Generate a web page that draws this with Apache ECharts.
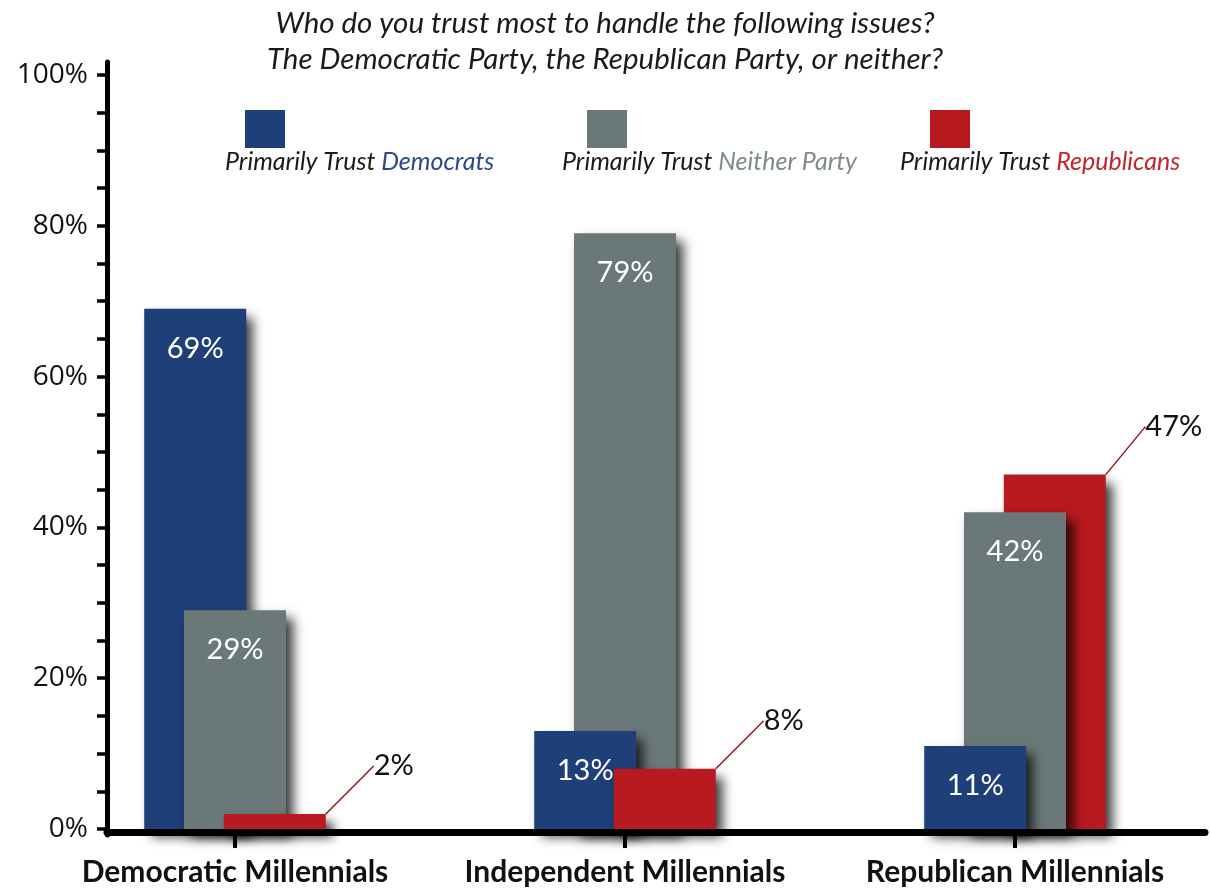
<!DOCTYPE html>
<html><head><meta charset="utf-8">
<script src="https://cdn.jsdelivr.net/npm/echarts@6/dist/echarts.min.js"></script>
<style>html,body{margin:0;padding:0;background:#fff}#c{width:1210px;height:891px}</style>
</head><body><div id="c"></div>
<script>
const categories = ['Democratic Millennials', 'Independent Millennials', 'Republican Millennials'];
const trustDemocrats = [69, 13, 11];
const trustNeither = [29, 79, 42];
const trustRepublicans = [2, 8, 47];
const seriesNames = ['Primarily Trust Democrats', 'Primarily Trust Neither Party', 'Primarily Trust Republicans'];

const FONT = 'Lato, "Open Sans", sans-serif';
const parties = {
  D: { name: seriesNames[0], values: trustDemocrats, color: '#1f3f78', inside: true },
  N: { name: seriesNames[1], values: trustNeither, color: '#6a7978', inside: true },
  R: { name: seriesNames[2], values: trustRepublicans, color: '#b81a1f', inside: false }
};
// which bar sits over which, per group (bottom -> top)
const layerOrder = [['D', 'N', 'R'], ['N', 'D', 'R'], ['R', 'N', 'D']];

const series = [];
layerOrder.forEach((order, ci) => {
  order.forEach((key, li) => {
    const p = parties[key];
    const s = {
      type: 'bar', name: p.name, stack: key, xAxisIndex: 1, yAxisIndex: 1,
      barWidth: 102, barGap: '-61%',
      z: 2 + li,
      data: p.values.map((v, i) => (i === ci ? v : '-')),
      itemStyle: { color: p.color, shadowColor: 'rgba(0,0,0,0.78)', shadowBlur: 11, shadowOffsetX: 7, shadowOffsetY: 8 },
      label: p.inside
        ? { show: true, position: 'insideTop', distance: 25, color: '#fff', fontSize: 29, fontFamily: FONT, formatter: '{c}%' }
        : { show: true, position: 'top', color: '#111', fontSize: 29, fontFamily: FONT, formatter: '{c}%', padding: [8, 6, 8, 6] }
    };
    if (!p.inside) {
      s.labelLayout = (params) => ({
        x: params.rect.x + params.rect.width + 68,
        y: params.rect.y - 48,
        align: 'center', verticalAlign: 'middle'
      });
      s.labelLine = { show: true, length2: 0, lineStyle: { color: '#8e1b1f', width: 1.5 } };
    }
    series.push(s);
  });
});

const legendBase = {
  top: 110, itemWidth: 40, itemHeight: 38, padding: 0, icon: 'rect',
  formatter: () => '', selectedMode: false,
  itemStyle: { shadowBlur: 0, shadowOffsetX: 0, shadowOffsetY: 0, shadowColor: 'rgba(0,0,0,0)' },
  textStyle: { fontSize: 2 }
};
const legTxt = { fontSize: 25, fontStyle: 'italic', fontWeight: 'normal', color: '#1a1a1a', fontFamily: FONT };

const option = {
  backgroundColor: '#fff',
  animation: false,
  title: [
    {
      text: 'Who do you trust most to handle the following issues?\nThe Democratic Party, the Republican Party, or neither?',
      left: 'center', top: 5, padding: [0, 0, 0, 68],
      textStyle: { fontSize: 29.5, fontStyle: 'italic', fontWeight: 'normal', color: '#1a1a1a', lineHeight: 36, fontFamily: FONT }
    },
    {
      text: 'Primarily Trust {d|Democrats}', left: 225, top: 149, padding: 0, textAlign: 'left',
      textStyle: Object.assign({}, legTxt, { rich: { d: Object.assign({}, legTxt, { color: '#2b4a86' }) } })
    },
    {
      text: 'Primarily Trust {n|Neither Party}', left: 562, top: 149, padding: 0, textAlign: 'left',
      textStyle: Object.assign({}, legTxt, { rich: { n: Object.assign({}, legTxt, { color: '#7d8c8b' }) } })
    },
    {
      text: 'Primarily Trust {r|Republicans}', left: 900, top: 149, padding: 0, textAlign: 'left',
      textStyle: Object.assign({}, legTxt, { rich: { r: Object.assign({}, legTxt, { color: '#c0272d' }) } })
    }
  ],
  legend: [
    Object.assign({}, legendBase, { data: [seriesNames[0]], left: 245 }),
    Object.assign({}, legendBase, { data: [seriesNames[1]], left: 587 }),
    Object.assign({}, legendBase, { data: [seriesNames[2]], left: 930 })
  ],
  grid: [
    { left: 107, right: 5, top: 62, bottom: 56 },
    { left: 40, right: 0, top: 75, bottom: 62 }
  ],
  xAxis: [
    {
      gridIndex: 0, type: 'category', data: categories, offset: -3,
      axisLine: { show: true, lineStyle: { color: '#000', width: 7 } },
      axisTick: { show: false }, axisLabel: { show: false }, splitLine: { show: false }
    },
    {
      gridIndex: 1, type: 'category', data: categories,
      axisLine: { show: false },
      axisTick: { show: true, alignWithLabel: true, interval: 0, length: 19, lineStyle: { color: '#000', width: 4 } },
      axisLabel: { interval: 0, hideOverlap: false, margin: 28, fontSize: 30, fontWeight: 'bold', color: '#111', fontFamily: FONT },
      splitLine: { show: false }
    }
  ],
  yAxis: [
    {
      gridIndex: 0, type: 'value', min: 0, max: 100,
      axisLine: { show: true, lineStyle: { color: '#000', width: 5 } },
      axisTick: { show: false }, axisLabel: { show: false }, splitLine: { show: false }
    },
    {
      gridIndex: 1, type: 'value', min: 0, max: 100, interval: 5, offset: -67,
      axisLine: { show: false },
      axisTick: { show: true, length: 10, lineStyle: { color: '#000', width: 3.5 } },
      axisLabel: { margin: 19, fontSize: 28, color: '#111', fontFamily: '"Open Sans", sans-serif',
        formatter: (v) => (v % 20 === 0 ? v + '%' : '') },
      splitLine: { show: false }
    }
  ],
  series: series
};
const chart = echarts.init(document.getElementById('c'), null, { renderer: 'canvas' });
chart.setOption(option);
</script>
</body></html>
